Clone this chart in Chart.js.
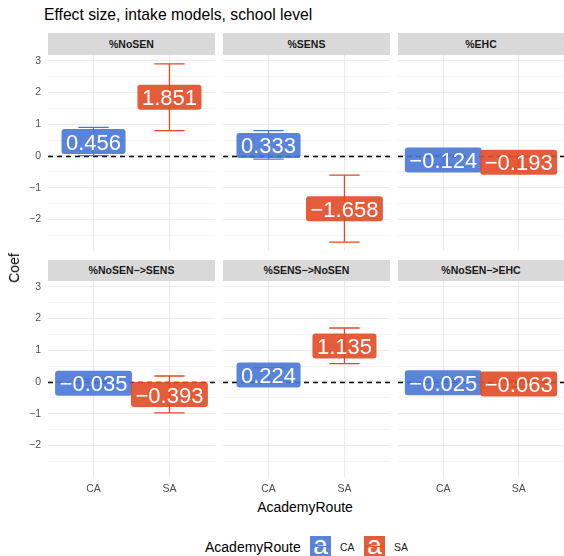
<!DOCTYPE html>
<html>
<head>
<meta charset="utf-8">
<script src="https://cdn.jsdelivr.net/npm/chart.js@4/dist/chart.umd.min.js"></script>
<style>
  body { margin:0; width:564px; height:556px; background:#fff; position:relative; overflow:hidden;
         font-family:"Liberation Sans", Arial, Helvetica, sans-serif; }
  .txt { position:absolute; white-space:nowrap; color:#000; }
  .strip { position:absolute; background:#d9d9d9; color:#1a1a1a; font-weight:bold; font-size:10.5px;
           text-align:center; }
  canvas { position:absolute; }
  .key { position:absolute; width:21px; height:21px; overflow:hidden; }
  .key span { position:absolute; left:0; right:0; top:-6px; text-align:center; color:#fff; font-size:26px; line-height:30px; }
  .key i { position:absolute; left:1px; right:1px; top:10px; height:1px; }
</style>
</head>
<body>
<script>
// Facets and routes
const facets = ['%NoSEN', '%SENS', '%EHC', '%NoSEN\u2212>SENS', '%SENS\u2212>NoSEN', '%NoSEN\u2212>EHC'];
const routes = ['CA', 'SA'];

// Point estimates per facet
const caCoef = [0.456, 0.333, -0.124, -0.035, 0.224, -0.025];
const saCoef = [1.851, -1.658, -0.193, -0.393, 1.135, -0.063];

// Confidence interval bounds per facet
const caLow  = [0.01, -0.10, -0.28, -0.17, 0.00, -0.12];
const caHigh = [0.90,  0.80,  0.03,  0.10, 0.45,  0.07];
const saLow  = [0.80, -2.71, -0.37, -0.97, 0.58, -0.16];
const saHigh = [2.90, -0.60, -0.02,  0.19, 1.70,  0.04];

// Y axis breaks (major labelled, minor between)
const yMajor = [-2, -1, 0, 1, 2, 3];
const yGrid  = [-2.5, -2, -1.5, -1, -0.5, 0, 0.5, 1, 1.5, 2, 2.5, 3];

const FONT = '"Liberation Sans", Arial, Helvetica, sans-serif';
const routeColor = { CA: '#4876d6', SA: '#e24a26' };
const labelFill  = { CA: 'rgba(72,118,214,0.9)', SA: 'rgba(226,74,38,0.9)' };

const fmt = v => (v < 0 ? '\u2212' : '') + Math.abs(v).toFixed(3);
const fmtTick = v => (v < 0 ? '\u2212' : '') + Math.abs(v);

// Panel geometry
const panelLeft = [48, 223, 398];
const panelWidth = [167, 167, 166];
const panelTop = [55, 281];
const panelHeight = 196;
const stripTop = [33, 260];
const stripHeight = [22, 21];

// Draws the dashed zero line, the error bars and the value labels
const facetMarks = {
  id: 'facetMarks',
  beforeDatasetsDraw(chart) {
    const { ctx, chartArea: a, scales: { y } } = chart;
    const y0 = Math.round(y.getPixelForValue(0)) + 0.5;
    ctx.save();
    ctx.strokeStyle = '#000';
    ctx.lineWidth = 1.3;
    ctx.setLineDash([5, 4]);
    ctx.beginPath();
    ctx.moveTo(a.left, y0);
    ctx.lineTo(a.right, y0);
    ctx.stroke();
    ctx.restore();
  },
  afterDatasetsDraw(chart) {
    const { ctx, scales: { x, y } } = chart;
    ctx.save();
    // error bars
    chart.data.datasets.forEach(ds => {
      ds.data.forEach(p => {
        const px = x.getPixelForValue(p.x);
        const half = x.getPixelForValue(p.x + 0.2) - px;
        const yl = y.getPixelForValue(p.lo);
        const yh = y.getPixelForValue(p.hi);
        ctx.strokeStyle = routeColor[ds.label];
        ctx.lineWidth = 1.3;
        ctx.beginPath();
        ctx.moveTo(px - half, yh); ctx.lineTo(px + half, yh);
        ctx.moveTo(px, yh); ctx.lineTo(px, yl);
        ctx.moveTo(px - half, yl); ctx.lineTo(px + half, yl);
        ctx.stroke();
      });
    });
    // value labels
    ctx.font = '22px ' + FONT;
    ctx.textAlign = 'center';
    ctx.textBaseline = 'alphabetic';
    chart.data.datasets.forEach((ds, i) => {
      const meta = chart.getDatasetMeta(i);
      meta.data.forEach((el, j) => {
        const txt = fmt(ds.data[j].y);
        const w = ctx.measureText(txt).width + 9;
        const h = 25;
        const cx = el.x, cy = el.y;
        ctx.fillStyle = labelFill[ds.label];
        ctx.beginPath();
        ctx.roundRect(cx - w / 2, cy - h / 2, w, h, 3);
        ctx.fill();
        ctx.fillStyle = '#fff';
        ctx.fillText(txt, cx, cy + 8);
      });
    });
    ctx.restore();
  }
};

function addText(text, css) {
  const d = document.createElement('div');
  d.className = 'txt';
  d.textContent = text;
  Object.assign(d.style, css);
  document.body.appendChild(d);
  return d;
}

// Fixed axis size, no extra padding reserved for edge labels
function fixAxis(s, prop, size) {
  s[prop] = size;
  s.paddingTop = 0; s.paddingBottom = 0; s.paddingLeft = 0; s.paddingRight = 0;
}

facets.forEach((name, f) => {
  const row = Math.floor(f / 3), col = f % 3;
  const leftCol = col === 0, bottomRow = row === 1;

  const strip = document.createElement('div');
  strip.className = 'strip';
  strip.textContent = name;
  Object.assign(strip.style, {
    left: panelLeft[col] + 'px', width: panelWidth[col] + 'px',
    top: stripTop[row] + 'px', height: stripHeight[row] + 'px', lineHeight: stripHeight[row] + 'px'
  });
  document.body.appendChild(strip);

  const cv = document.createElement('canvas');
  const cLeft = leftCol ? 0 : panelLeft[col];
  const cWidth = leftCol ? panelLeft[0] + panelWidth[0] : panelWidth[col];
  const cHeight = panelHeight + (bottomRow ? 19 : 0);
  cv.width = cWidth; cv.height = cHeight;
  cv.style.left = cLeft + 'px'; cv.style.top = panelTop[row] + 'px';
  cv.style.width = cWidth + 'px'; cv.style.height = cHeight + 'px';
  document.body.appendChild(cv);

  new Chart(cv, {
    type: 'scatter',
    data: {
      datasets: [
        { label: 'CA', data: [{ x: 1, y: caCoef[f], lo: caLow[f], hi: caHigh[f] }], pointRadius: 0, showLine: false },
        { label: 'SA', data: [{ x: 2, y: saCoef[f], lo: saLow[f], hi: saHigh[f] }], pointRadius: 0, showLine: false }
      ]
    },
    options: {
      responsive: false,
      animation: false,
      devicePixelRatio: 1,
      layout: { padding: 0 },
      plugins: { legend: { display: false }, tooltip: { enabled: false } },
      scales: {
        x: {
          type: 'linear', min: 0.4, max: 2.6,
          afterBuildTicks: s => { s.ticks = routes.map((r, k) => ({ value: k + 1 })); },
          afterFit: s => fixAxis(s, 'height', bottomRow ? 19 : 0),
          ticks: {
            display: bottomRow, autoSkip: false, maxRotation: 0, padding: 6,
            color: '#4d4d4d', font: { size: 10.5, family: FONT },
            callback: v => routes[Math.round(v) - 1]
          },
          grid: { color: '#ebebeb', lineWidth: 1.1, drawTicks: false },
          border: { display: false }
        },
        y: {
          type: 'linear', min: -2.99, max: 3.18,
          afterBuildTicks: s => { s.ticks = yGrid.map(v => ({ value: v })); },
          afterFit: s => fixAxis(s, 'width', leftCol ? panelLeft[0] : 0),
          ticks: {
            display: leftCol, autoSkip: false, padding: 7,
            color: '#4d4d4d', font: { size: 10.5, family: FONT },
            callback: v => yMajor.includes(v) ? fmtTick(v) : ''
          },
          grid: {
            color: '#ebebeb',
            lineWidth: c => (c.tick && yMajor.includes(c.tick.value)) ? 1.1 : 0.55,
            drawTicks: false
          },
          border: { display: false }
        }
      }
    },
    plugins: [facetMarks]
  });
});

// Titles
addText('Effect size, intake models, school level', { left: '44px', top: '5px', fontSize: '15.7px', lineHeight: '20px' });
addText('Coef', { left: '14px', top: '268px', fontSize: '14px', transform: 'translate(-50%,-50%) rotate(-90deg)' });
addText('AcademyRoute', { left: '305px', top: '507px', fontSize: '14px', transform: 'translate(-50%,-50%)' });

// Legend
addText('AcademyRoute', { left: '205px', top: '547px', fontSize: '14px', transform: 'translateY(-50%)' });
routes.forEach((r, k) => {
  const left = [310, 364][k];
  const key = document.createElement('div');
  key.className = 'key';
  key.style.left = left + 'px';
  key.style.top = '536px';
  key.style.background = labelFill[r];
  key.innerHTML = '<span>a</span><i style="background:' + routeColor[r] + '"></i>';
  document.body.appendChild(key);
  addText(r, { left: (left + 30) + 'px', top: '547px', fontSize: '10.5px', color: '#1a1a1a', transform: 'translateY(-50%)' });
});
</script>
</body>
</html>
